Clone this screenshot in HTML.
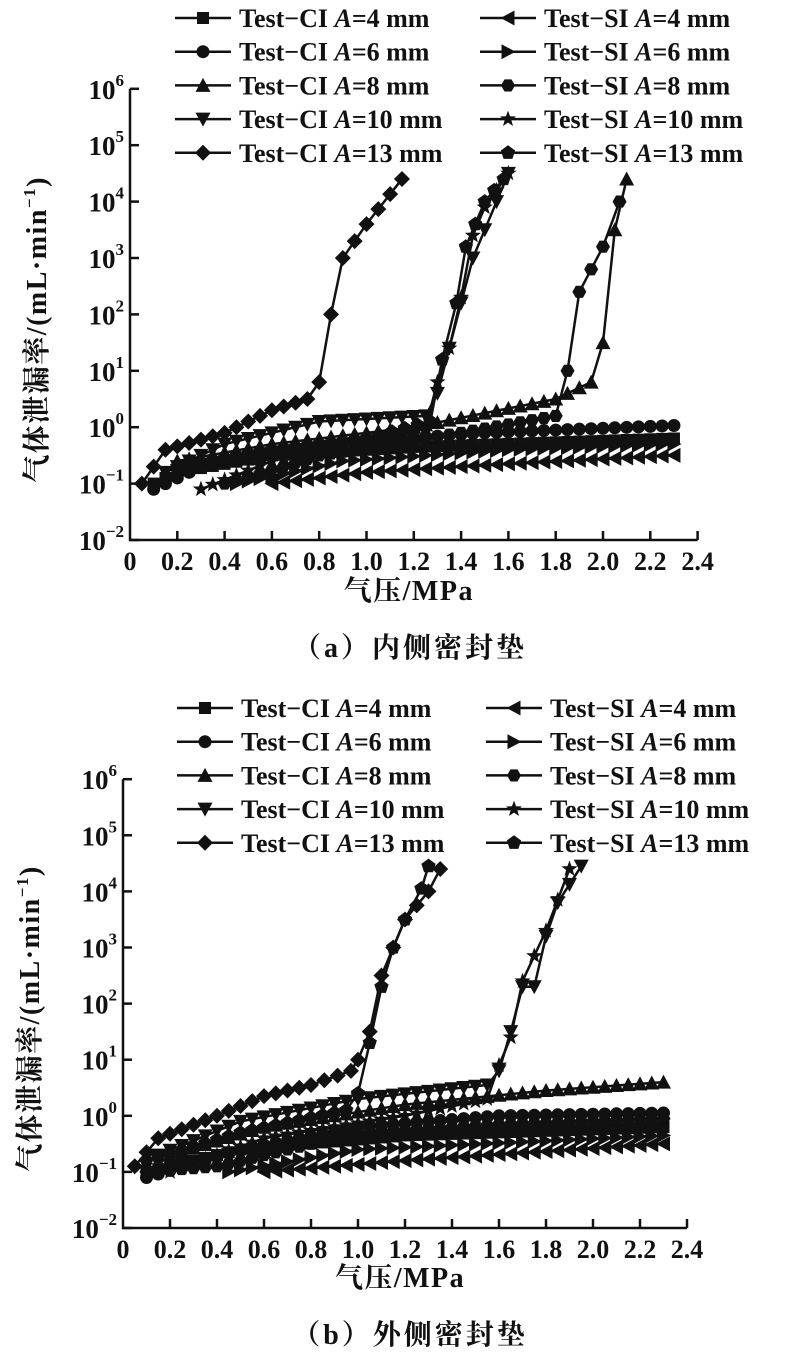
<!DOCTYPE html>
<html><head><meta charset="utf-8"><style>
html,body{margin:0;padding:0;background:#fff}
svg{display:block}
text{font-family:"Liberation Serif","Noto Serif CJK SC",serif;font-weight:bold;fill:#111}
</style></head><body>
<svg id="s" width="791" height="1365" viewBox="0 0 791 1365" xmlns="http://www.w3.org/2000/svg"></svg>
<script>
(function(){
var S=document.getElementById('s');var h='';
function mk(t,x,y){var r=6.5,p=[],i,a,rr;switch(t){
case 'sq':return '<rect x="'+(x-r+0.5)+'" y="'+(y-r+0.5)+'" width="'+(2*r-1)+'" height="'+(2*r-1)+'"/>';
case 'ci':return '<circle cx="'+x+'" cy="'+y+'" r="'+(r)+'"/>';
case 'tu':return '<polygon points="'+x+','+(y-r-1)+' '+(x+r+1)+','+(y+r)+' '+(x-r-1)+','+(y+r)+'"/>';
case 'td':return '<polygon points="'+x+','+(y+r+1)+' '+(x+r+1)+','+(y-r)+' '+(x-r-1)+','+(y-r)+'"/>';
case 'di':return '<polygon points="'+x+','+(y-r-1.5)+' '+(x+r+1.5)+','+y+' '+x+','+(y+r+1.5)+' '+(x-r-1.5)+','+y+'"/>';
case 'tl':return '<polygon points="'+(x-r-1)+','+y+' '+(x+r)+','+(y-r-1)+' '+(x+r)+','+(y+r+1)+'"/>';
case 'tr':return '<polygon points="'+(x+r+1)+','+y+' '+(x-r)+','+(y-r-1)+' '+(x-r)+','+(y+r+1)+'"/>';
case 'hx':for(i=0;i<6;i++){a=Math.PI/3*i;p.push((x+(r+0.5)*Math.cos(a))+','+(y+(r+0.5)*Math.sin(a)));}return '<polygon points="'+p.join(' ')+'"/>';
case 'st':for(i=0;i<10;i++){a=-Math.PI/2+Math.PI/5*i;rr=i%2?3.5:8.5;p.push((x+rr*Math.cos(a))+','+(y+rr*Math.sin(a)));}return '<polygon points="'+p.join(' ')+'"/>';
case 'pe':for(i=0;i<5;i++){a=-Math.PI/2+2*Math.PI/5*i;p.push((x+(r+1)*Math.cos(a))+','+(y+(r+1)*Math.sin(a)));}return '<polygon points="'+p.join(' ')+'"/>';
}return '';}
function chart(ox,oy,sx,sy,series,legY,lc1,lc2,xl,cap,capT,capX){
 h+='<path d="M'+ox+','+(oy-8*sy)+' V'+oy+' H'+(ox+2.4*sx)+'" fill="none" stroke="#111" stroke-width="2.5"/>';
 for(var i=0;i<=8;i++){var y=oy-i*sy;h+='<line x1="'+ox+'" y1="'+y+'" x2="'+(ox+9)+'" y2="'+y+'" stroke="#111" stroke-width="2.5"/>';
  h+='<text x="'+(ox-6)+'" y="'+(y+10)+'" font-size="27" text-anchor="end">10<tspan font-size="17" dy="-13">'+(i-2<0?'−'+(2-i):(i-2))+'</tspan></text>';}
 for(i=0;i<=12;i++){var x=ox+i*sx*0.2;if(i>0)h+='<line x1="'+x+'" y1="'+oy+'" x2="'+x+'" y2="'+(oy-9)+'" stroke="#111" stroke-width="2.5"/>';
  h+='<text x="'+x+'" y="'+(oy+30)+'" font-size="26" text-anchor="middle">'+(i==0?'0':(i*0.2).toFixed(1))+'</text>';}
 h+='<text x="'+(ox+sx*1.2-5)+'" y="'+xl+'" font-size="28" letter-spacing="1.5" text-anchor="middle">气压/MPa</text>';
 h+='<text x="'+capX+'" y="'+cap+'" font-size="28" letter-spacing="3" text-anchor="middle">'+capT+'</text>';
 var cy=oy-4*sy+15;
 h+='<text transform="translate('+(ox-84)+','+cy+') rotate(-90)" font-size="28" letter-spacing="1.5" text-anchor="middle">气体泄漏率/(mL·min<tspan font-size="17" dy="-11">−1</tspan><tspan dy="11">)</tspan></text>';
 series.forEach(function(s){
  var k=s.k,pts=[];
  for(var j=0;j<k.length-1;j++){var x0=k[j][0],y0=k[j][1],x1=k[j+1][0],y1=k[j+1][1];var n=Math.max(1,Math.round((x1-x0)/0.05));for(var m=0;m<n;m++){var t=m/n;pts.push([x0+(x1-x0)*t,y0+(y1-y0)*t]);}}
  pts.push(k[k.length-1]);
  var P=pts.map(function(p){return [ox+p[0]*sx,oy-(p[1]+2)*sy];});
  h+='<polyline points="'+P.map(function(p){return p.join(',');}).join(' ')+'" fill="none" stroke="#111" stroke-width="2.5"/>';
  h+='<g fill="#111">'+P.map(function(p){return mk(s.m,p[0],p[1]);}).join('')+'</g>';
 });
 var labs=[['sq','Test−CI','4'],['ci','Test−CI','6'],['tu','Test−CI','8'],['td','Test−CI','10'],['di','Test−CI','13'],
 ['tl','Test−SI','4'],['tr','Test−SI','6'],['hx','Test−SI','8'],['st','Test−SI','10'],['pe','Test−SI','13']];
 labs.forEach(function(l,i){var c=i<5?lc1:lc2,y=legY+(i%5)*33.7;
  h+='<line x1="'+c+'" y1="'+y+'" x2="'+(c+56)+'" y2="'+y+'" stroke="#111" stroke-width="2.5"/><g fill="#111">'+mk(l[0],c+28,y)+'</g>';
  h+='<text x="'+(c+64)+'" y="'+(y+9)+'" font-size="26">'+l[1]+' <tspan font-style="italic">A</tspan>='+l[2]+' mm</text>';});
}
var topS=[
{m:'sq',k:[[0.1,-1],[0.2,-0.8],[0.6,-0.5],[1.2,-0.35],[2.3,-0.2]]},
{m:'ci',k:[[0.1,-1.1],[0.3,-0.7],[0.8,-0.3],[1.5,-0.1],[2.3,0.03]]},
{m:'tu',k:[[0.2,-0.6],[0.6,-0.3],[1.2,0],[1.8,0.5],[1.95,0.8],[2.0,1.5],[2.05,3.5],[2.1,4.4]]},
{m:'td',k:[[0.15,-0.8],[0.4,-0.3],[0.8,0.1],[1.25,0.2],[1.3,0.6],[1.35,1.4],[1.45,3],[1.6,4.5]]},
{m:'di',k:[[0.05,-1],[0.15,-0.4],[0.4,-0.1],[0.6,0.3],[0.75,0.5],[0.8,0.8],[0.85,2],[0.9,3],[1.0,3.6],[1.15,4.4]]},
{m:'tl',k:[[0.6,-1],[1.0,-0.8],[1.6,-0.65],[2.3,-0.5]]},
{m:'tr',k:[[0.45,-1],[0.9,-0.6],[1.6,-0.4],[2.3,-0.3]]},
{m:'hx',k:[[0.4,-1],[0.8,-0.5],[1.4,-0.1],[1.8,0.2],[1.85,1],[1.9,2.4],[1.95,2.8],[2.0,3.2],[2.07,4]]},
{m:'st',k:[[0.3,-1.1],[0.6,-0.6],[1.0,-0.2],[1.25,0],[1.3,0.8],[1.35,1.4],[1.4,2.3],[1.45,3.4],[1.5,3.9],[1.6,4.5]]},
{m:'pe',k:[[0.2,-0.7],[0.6,-0.4],[1.0,-0.2],[1.27,0.1],[1.32,1.2],[1.38,2.2],[1.42,3.2],[1.5,4],[1.58,4.4]]}];
var botS=[
{m:'sq',k:[[0.1,-1],[0.5,-0.6],[1.2,-0.35],[2.3,-0.2]]},
{m:'ci',k:[[0.1,-1.1],[0.5,-0.6],[1.0,-0.2],[1.6,0],[2.3,0.05]]},
{m:'tu',k:[[0.2,-0.7],[0.6,-0.2],[1.2,0.2],[1.8,0.45],[2.3,0.6]]},
{m:'td',k:[[0.15,-0.7],[0.5,-0.1],[1.0,0.3],[1.55,0.55],[1.6,0.8],[1.65,1.5],[1.7,2.3],[1.75,2.3],[1.8,3.2],[1.85,3.8],[1.95,4.45]]},
{m:'di',k:[[0.05,-0.9],[0.15,-0.4],[0.4,0],[0.6,0.35],[0.8,0.55],[0.97,0.8],[1.0,1],[1.05,1.5],[1.1,2.5],[1.15,3],[1.2,3.5],[1.3,4],[1.35,4.4]]},
{m:'tl',k:[[0.6,-1],[1.2,-0.8],[2.3,-0.5]]},
{m:'tr',k:[[0.45,-1],[1.0,-0.6],[2.3,-0.35]]},
{m:'hx',k:[[0.1,-1],[0.4,-0.9],[1.0,-0.3],[1.6,-0.15],[2.3,-0.05]]},
{m:'st',k:[[0.2,-1],[0.6,-0.4],[1.2,0],[1.55,0.3],[1.6,0.9],[1.65,1.4],[1.7,2.4],[1.8,3.3],[1.9,4.4]]},
{m:'pe',k:[[0.1,-0.8],[0.5,-0.3],[0.95,0.1],[1.0,0.4],[1.05,1.3],[1.1,2.3],[1.15,3],[1.2,3.5],[1.27,4.05],[1.3,4.45]]}];
chart(130,540,236.5,56.4,topS,18,175,480,600,657,'（a）内侧密封垫',410);
chart(123,1228,235,56.1,botS,708,177,486,1287,1344,'（b）外侧密封垫',410);
S.innerHTML=h;
})();
</script>
</body></html>
